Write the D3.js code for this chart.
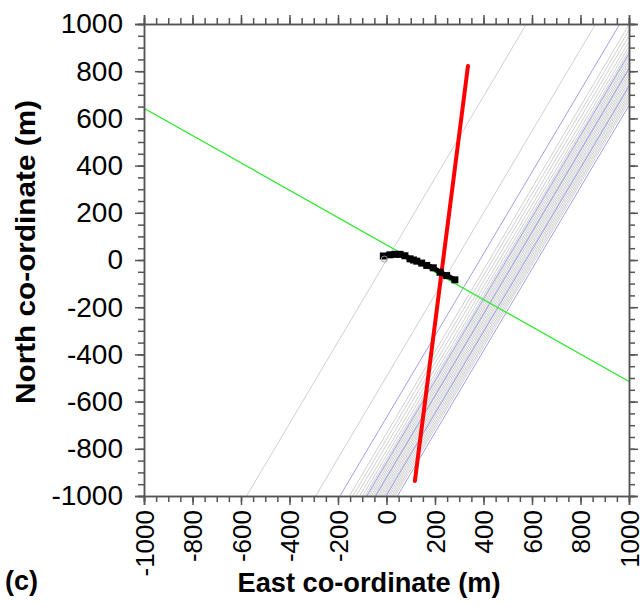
<!DOCTYPE html>
<html>
<head>
<meta charset="utf-8">
<script src="https://cdn.jsdelivr.net/npm/d3@7"></script>
<style>
  body { margin: 0; background: #fff; }
  text { font-family: Arial, "Liberation Sans", sans-serif; }
</style>
</head>
<body>
<svg id="chart" width="640" height="607"></svg>
<script>
// tick values (m)
var majorTicks = [-1000, -800, -600, -400, -200, 0, 200, 400, 600, 800, 1000];
var minorTicks = d3.range(-1000, 1001, 50);

// parallel lines: East co-ordinate where each one meets N=-1000 and N=+1000
var grayBottomE = [-577, -292, -153, -139, -125, -111, -99, -89, -77, -70, -63, -56, -49, -42, -35, -28, -21, -14, -7, 0, 7, 14, 21, 28, 35];
var grayTopE    = [577, 862, 1001, 1015, 1029, 1043, 1055, 1065, 1077, 1084, 1091, 1098, 1105, 1112, 1119, 1126, 1133, 1140, 1147, 1154, 1161, 1168, 1175, 1182, 1189];
var blueBottomE = [-192, -82, -45, -2, 45];
var blueTopE    = [962, 1072, 1109, 1152, 1199];

// green line end points [E, N]
var greenLine = [[-1000, 643], [1000, -515]];
// red line end points [E, N]
var redLine = [[117, -936], [336, 822]];
// black track [E, N]
var blackTrack = [[-13, 17], [14, 22], [35, 24], [56, 24], [76, 18], [97, 5], [111, 0], [125, -5], [145, -13],
                  [166, -23], [193, -33], [221, -52], [248, -66], [282, -84]];

var svg = d3.select("#chart");
var margin = {left: 144, right: 11, top: 24, bottom: 111};
var W = 640 - margin.left - margin.right,
    H = 607 - margin.top - margin.bottom;

var x = d3.scaleLinear().domain([-1000, 1000]).range([margin.left, margin.left + W]);
var y = d3.scaleLinear().domain([-1000, 1000]).range([margin.top + H, margin.top]);

svg.append("clipPath").attr("id", "clip")
    .append("rect")
    .attr("x", margin.left).attr("y", margin.top)
    .attr("width", W).attr("height", H);

var plot = svg.append("g").attr("clip-path", "url(#clip)");

function drawFamily(bottoms, tops, colour) {
    plot.append("g")
        .selectAll("line")
        .data(bottoms)
        .enter()
        .append("line")
        .attr("x1", function (d) { return x(d); })
        .attr("y1", y(-1000))
        .attr("x2", function (d, i) { return x(tops[i]); })
        .attr("y2", y(1000))
        .attr("stroke", colour)
        .attr("stroke-width", 1);
}
drawFamily(grayBottomE, grayTopE, "#d0d0d0");
drawFamily(blueBottomE, blueTopE, "#a0a0e6");

var line = d3.line()
    .x(function (d) { return x(d[0]); })
    .y(function (d) { return y(d[1]); });

plot.append("path").datum(greenLine)
    .attr("d", line)
    .attr("fill", "none")
    .attr("stroke", "#33e833")
    .attr("stroke-width", 1.3);

plot.append("path").datum(redLine)
    .attr("d", line)
    .attr("fill", "none")
    .attr("stroke", "#ff0000")
    .attr("stroke-width", 4)
    .attr("stroke-linecap", "round");

plot.append("path").datum(blackTrack)
    .attr("d", line)
    .attr("fill", "none")
    .attr("stroke", "#000")
    .attr("stroke-width", 5);

plot.append("g")
    .selectAll("rect")
    .data(blackTrack)
    .enter()
    .append("rect")
    .attr("x", function (d) { return x(d[0]) - 3.5; })
    .attr("y", function (d) { return y(d[1]) - 3.5; })
    .attr("width", 7)
    .attr("height", 7)
    .attr("fill", "#000");

// small open marker at the start of the track
plot.append("circle")
    .attr("cx", x(blackTrack[0][0]) + 1)
    .attr("cy", y(blackTrack[0][1]) + 3)
    .attr("r", 3)
    .attr("fill", "none")
    .attr("stroke", "#999")
    .attr("stroke-width", 1);

// axes
var axisColour = "#555";
function styleAxis(g) {
    g.selectAll("path.domain").attr("stroke", axisColour).attr("stroke-width", 1.5);
    g.selectAll(".tick line").attr("stroke", axisColour).attr("stroke-width", 1.5);
}

function addAxis(maker, transform, labels) {
    var minor = svg.append("g").attr("transform", transform)
        .call(maker.tickValues(minorTicks).tickSize(6).tickFormat(""));
    styleAxis(minor);
    minor.selectAll("text").remove();
    var major = svg.append("g").attr("transform", transform)
        .call(maker.tickValues(majorTicks).tickSize(9).tickFormat(function (d) { return labels ? String(d) : ""; }));
    styleAxis(major);
    if (!labels) major.selectAll("text").remove();
    return major;
}

var bottom = addAxis(d3.axisBottom(x), "translate(0," + y(-1000) + ")", true);
bottom.selectAll("text")
    .attr("font-size", 26)
    .attr("fill", "#000")
    .attr("transform", "rotate(-90)")
    .attr("text-anchor", "end")
    .attr("x", -14)
    .attr("y", 0)
    .attr("dy", "0.35em");
bottom.attr("font-family", null);

var left = addAxis(d3.axisLeft(y), "translate(" + x(-1000) + ",0)", true);
left.selectAll("text")
    .attr("font-size", 28)
    .attr("fill", "#000")
    .attr("x", -21);
left.attr("font-family", null);

addAxis(d3.axisTop(x), "translate(0," + y(1000) + ")", false);
addAxis(d3.axisRight(y), "translate(" + x(1000) + ",0)", false);

// titles
svg.append("text")
    .attr("x", 369)
    .attr("y", 592)
    .attr("text-anchor", "middle")
    .attr("font-size", 27)
    .attr("font-weight", "bold")
    .attr("textLength", 263)
    .attr("lengthAdjust", "spacingAndGlyphs")
    .text("East co-ordinate (m)");

svg.append("text")
    .attr("transform", "translate(35,252) rotate(-90)")
    .attr("text-anchor", "middle")
    .attr("font-size", 27)
    .attr("font-weight", "bold")
    .attr("textLength", 304)
    .attr("lengthAdjust", "spacingAndGlyphs")
    .text("North co-ordinate (m)");

svg.append("text")
    .attr("x", 5)
    .attr("y", 590)
    .attr("font-size", 27)
    .attr("font-weight", "bold")
    .text("(c)");
</script>
</body>
</html>
